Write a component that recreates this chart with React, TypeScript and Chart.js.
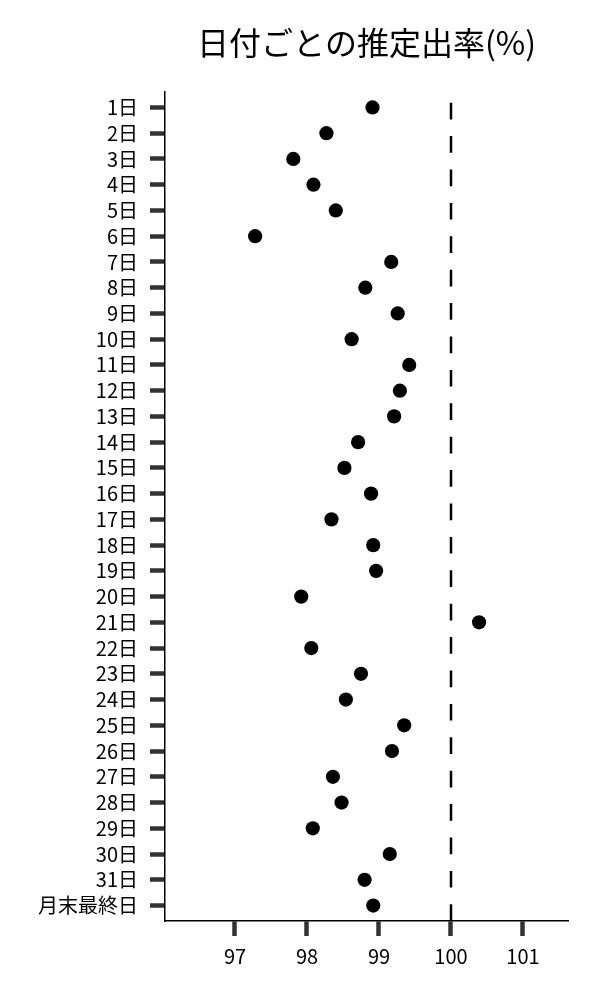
import React, { useEffect, useRef } from "react";
import { Chart, registerables } from "chart.js";

Chart.register(...registerables);

const categories: string[] = [
  "1日", "2日", "3日", "4日", "5日", "6日", "7日", "8日", "9日", "10日",
  "11日", "12日", "13日", "14日", "15日", "16日", "17日", "18日", "19日", "20日",
  "21日", "22日", "23日", "24日", "25日", "26日", "27日", "28日", "29日", "30日",
  "31日", "月末最終日",
];

const rates: number[] = [
  98.91, 98.27, 97.81, 98.09, 98.4, 97.28, 99.17, 98.81, 99.26, 98.62,
  99.42, 99.29, 99.21, 98.71, 98.52, 98.89, 98.34, 98.92, 98.96, 97.92,
  100.39, 98.06, 98.75, 98.54, 99.35, 99.18, 98.36, 98.48, 98.08, 99.15,
  98.8, 98.92,
];

const xTickValues: number[] = [97, 98, 99, 100, 101];
const referenceValue = 100;
const xMin = 96.028;
const xMax = 101.625;
const yMin = -0.6;
const yMax = categories.length - 1 + 0.6;

const FONT = "'Noto Sans CJK JP', 'Noto Sans', sans-serif";

export default function App() {
  const canvasRef = useRef<HTMLCanvasElement | null>(null);

  useEffect(() => {
    document.body.style.margin = "0";
    const canvas = canvasRef.current;
    if (!canvas) return;
    const points = rates.map((v, i) => ({ x: v, y: i }));
    const refLine = [
      { x: referenceValue, y: yMax },
      { x: referenceValue, y: yMin },
    ];
    const chart = new Chart(canvas, {
      type: "scatter",
      data: {
        datasets: [
          {
            data: refLine,
            showLine: true,
            borderColor: "#000",
            borderWidth: 2.5,
            borderDash: [16.7, 16.7],
            pointRadius: 0,
            pointHoverRadius: 0,
            fill: false,
          },
          {
            data: points,
            backgroundColor: "#000",
            borderWidth: 0,
            pointRadius: 7.1,
            pointHoverRadius: 7.1,
          },
        ],
      },
      options: {
        responsive: false,
        animation: false,
        devicePixelRatio: 1,
        layout: { padding: { left: 0, right: 32, top: 0, bottom: 0 } },
        plugins: {
          legend: { display: false },
          tooltip: { enabled: false },
          title: {
            display: true,
            text: "日付ごとの推定出率(%)",
            fullSize: false,
            color: "#000",
            font: { family: FONT, size: 32, weight: "normal" },
            padding: { top: 24, bottom: 29.6 },
          },
        },
        scales: {
          x: {
            type: "linear",
            min: xMin,
            max: xMax,
            afterBuildTicks: (axis: any) => {
              axis.ticks = xTickValues.map((v) => ({ value: v }));
            },
            afterFit: (scale: any) => {
              scale.height = 79;
            },
            border: { display: true, color: "#000", width: 1.5 },
            grid: {
              display: true,
              drawOnChartArea: false,
              drawTicks: true,
              tickLength: 15,
              tickWidth: 4.5,
              tickColor: "#333",
            },
            ticks: {
              color: "#000",
              padding: 8,
              font: { family: FONT, size: 20 },
              callback: (v: any) => String(v),
            },
          },
          y: {
            type: "linear",
            reverse: true,
            min: yMin,
            max: yMax,
            afterBuildTicks: (axis: any) => {
              axis.ticks = categories.map((_, i) => ({ value: i }));
            },
            afterFit: (scale: any) => {
              scale.width = 165;
            },
            border: { display: true, color: "#000", width: 1.5 },
            grid: {
              display: true,
              drawOnChartArea: false,
              drawTicks: true,
              tickLength: 15,
              tickWidth: 4.5,
              tickColor: "#333",
            },
            ticks: {
              color: "#000",
              padding: 12,
              autoSkip: false,
              font: { family: FONT, size: 20 },
              callback: (v: any) => categories[Math.round(Number(v))] ?? "",
            },
          },
        },
      },
    });
    return () => chart.destroy();
  }, []);

  return (
    <div style={{ width: 600, height: 1000 }}>
      <canvas ref={canvasRef} width={600} height={1000} />
    </div>
  );
}
